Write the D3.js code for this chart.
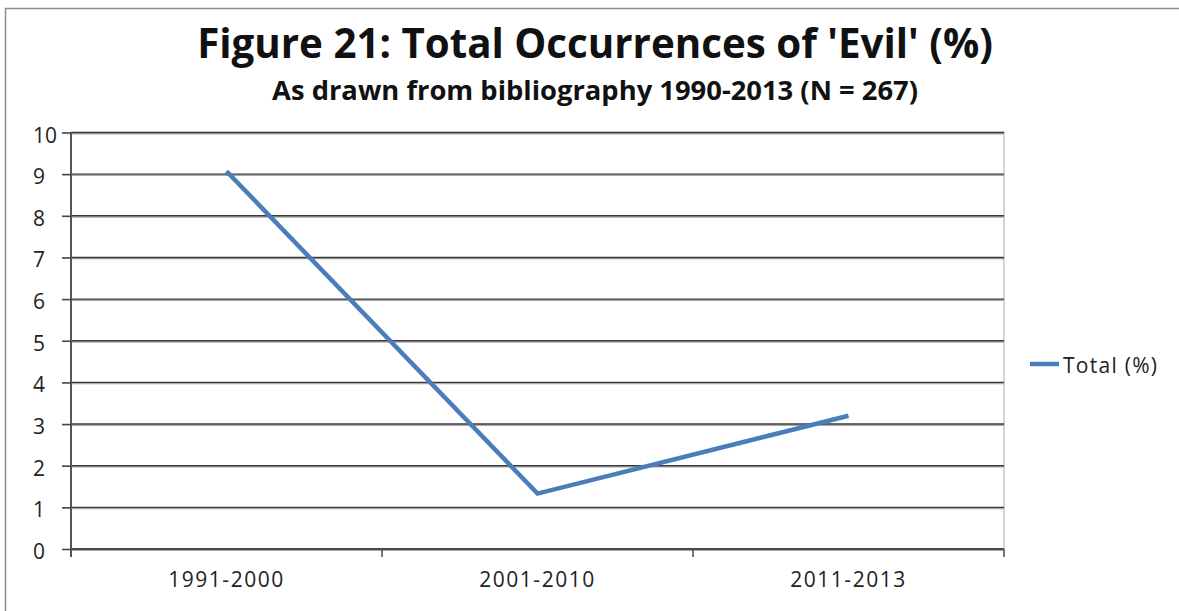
<!DOCTYPE html>
<html>
<head>
<meta charset="utf-8">
<script src="https://cdn.jsdelivr.net/npm/d3@7"></script>
<style>
  html, body { margin: 0; padding: 0; background: #fff; }
  svg { display: block; font-family: "Open Sans", "DejaVu Sans", sans-serif; }
</style>
</head>
<body>
<svg id="chart" width="1179" height="611"></svg>
<script>
// Occurrences of 'Evil' per period, as a share of the bibliography (%)
const periods = ["1991-2000", "2001-2010", "2011-2013"];
const totalPct = [9.07, 1.33, 3.2];
const yTicks = [0, 1, 2, 3, 4, 5, 6, 7, 8, 9, 10];
const seriesName = "Total (%)";
const titleText = "Figure 21: Total Occurrences of 'Evil' (%)";
const subtitleText = "As drawn from bibliography 1990-2013 (N = 267)";

const W = 1179, H = 611;
const plot = { left: 71, right: 1004, top: 132.5, bottom: 549 };
const lineColor = "#4a7ebb";

const svg = d3.select("#chart");

// chart frame
svg.append("rect")
  .attr("x", 5.5).attr("y", 8.5)
  .attr("width", W + 20).attr("height", H + 20)
  .attr("fill", "#fff").attr("stroke", "#8c8c8c").attr("stroke-width", 1.5);

// fit a text element to a target width by scaling its font size
function fit(sel, width) {
  const w = sel.node().getComputedTextLength();
  const fs = parseFloat(sel.attr("font-size"));
  sel.attr("font-size", fs * width / w);
}
// fit a text element to a target width by spreading its letters
function spread(sel, width) {
  const txt = sel.text();
  const w = sel.node().getComputedTextLength();
  sel.attr("letter-spacing", (width - w) / Math.max(1, txt.length - 1));
}

const title = svg.append("text")
  .attr("x", 595).attr("y", 58)
  .attr("text-anchor", "middle")
  .attr("font-weight", "bold").attr("font-size", 36).attr("fill", "#111")
  .text(titleText);
fit(title, 796);

const subtitle = svg.append("text")
  .attr("x", 595).attr("y", 100)
  .attr("text-anchor", "middle")
  .attr("font-weight", "bold").attr("font-size", 22).attr("fill", "#111")
  .text(subtitleText);
fit(subtitle, 646);

const x = d3.scaleBand().domain(periods).range([plot.left, plot.right]).padding(0);
const y = d3.scaleLinear().domain([0, 10]).range([plot.bottom, plot.top]);

// plot-area border (light)
svg.append("rect")
  .attr("x", plot.left).attr("y", plot.top)
  .attr("width", plot.right - plot.left).attr("height", plot.bottom - plot.top)
  .attr("fill", "none").attr("stroke", "#c8c8c8").attr("stroke-width", 1.5);

// gridlines with soft shadow
const grid = svg.append("g");
grid.selectAll("line.shadow").data(yTicks).join("line")
  .attr("class", "shadow")
  .attr("x1", plot.left).attr("x2", plot.right)
  .attr("y1", d => y(d) + 1.2).attr("y2", d => y(d) + 1.2)
  .attr("stroke", "#a8a8a8").attr("stroke-width", 1.4);
grid.selectAll("line.main").data(yTicks).join("line")
  .attr("class", "main")
  .attr("x1", plot.left).attr("x2", plot.right)
  .attr("y1", d => y(d)).attr("y2", d => y(d))
  .attr("stroke", "#3a3a3a").attr("stroke-width", 1.4);

// y axis, labels left-aligned in the margin
const yAxis = svg.append("g")
  .attr("transform", `translate(${plot.left},0)`)
  .call(d3.axisLeft(y).tickValues(yTicks).tickSize(9).tickFormat(d3.format("d")));
yAxis.attr("font-size", null).attr("font-family", null);
yAxis.select(".domain").attr("stroke", "#555").attr("stroke-width", 2)
  .attr("d", `M0,${plot.top}V${plot.bottom + 8}`);
yAxis.selectAll(".tick line").attr("stroke", "#444").attr("stroke-width", 1.6);
yAxis.selectAll(".tick text")
  .attr("x", -38).attr("dy", 9.5)
  .attr("text-anchor", "start")
  .attr("font-size", 21).attr("fill", "#222");

// x axis with ticks on category boundaries
const xAxisG = svg.append("g").attr("transform", `translate(0,${plot.bottom})`);
xAxisG.append("line")
  .attr("x1", plot.left).attr("x2", plot.right)
  .attr("stroke", "#444").attr("stroke-width", 1.6);
const boundaries = periods.map(p => x(p)).concat([x(periods[periods.length - 1]) + x.bandwidth()]);
xAxisG.selectAll("line.tk").data(boundaries).join("line")
  .attr("class", "tk")
  .attr("x1", d => d).attr("x2", d => d)
  .attr("y1", 0).attr("y2", 8)
  .attr("stroke", "#555").attr("stroke-width", 1.6);
xAxisG.selectAll("text").data(periods).join("text")
  .attr("x", d => x(d) + x.bandwidth() / 2)
  .attr("y", 38)
  .attr("text-anchor", "middle")
  .attr("font-size", 21).attr("fill", "#222")
  .text(d => d)
  .each(function () { spread(d3.select(this), 115); });

// data line
const line = d3.line()
  .x((d, i) => x(periods[i]) + x.bandwidth() / 2)
  .y(d => y(d));
svg.append("path")
  .datum(totalPct)
  .attr("d", line)
  .attr("fill", "none")
  .attr("stroke", lineColor)
  .attr("stroke-width", 4.5)
  .attr("stroke-linejoin", "miter");

// legend
const lg = svg.append("g").attr("transform", "translate(1030,364)");
lg.append("line").attr("x1", 0).attr("x2", 29).attr("y1", 0).attr("y2", 0)
  .attr("stroke", lineColor).attr("stroke-width", 4.5);
const lgText = lg.append("text").attr("x", 33).attr("y", 8.5)
  .attr("font-size", 21).attr("fill", "#222")
  .text(seriesName);
spread(lgText, 94);
</script>
</body>
</html>
